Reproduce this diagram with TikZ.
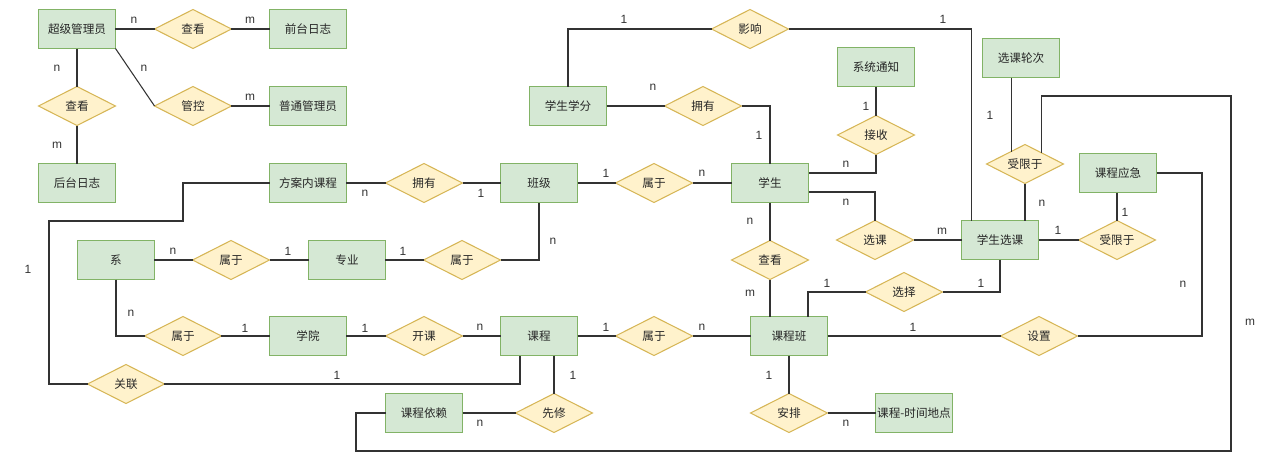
\documentclass[tikz,border=0pt]{standalone}
\usepackage{fontspec}
\setmainfont{Liberation Sans}
\newfontfamily\cjk{Noto Sans CJK SC}
\usetikzlibrary{shapes.geometric, calc}
\definecolor{entfill}{HTML}{D5E8D4}
\definecolor{entdraw}{HTML}{82B366}
\definecolor{relfill}{HTML}{FFF2CC}
\definecolor{reldraw}{HTML}{D6B656}
\definecolor{linecol}{HTML}{333333}

\begin{document}
\begin{tikzpicture}[
    x=0.02cm, y=-0.02cm,
    entity/.style={draw=entdraw, fill=entfill, line width=0.6pt, minimum width=1.54cm, minimum height=0.78cm, inner sep=0pt, outer sep=0pt, font=\cjk\fontsize{6.6}{8}\selectfont, text=black!85},
    relation/.style={diamond, aspect=2, draw=reldraw, fill=relfill, line width=0.6pt, minimum width=1.54cm, minimum height=0.78cm, inner sep=0pt, outer sep=0pt, font=\cjk\fontsize{6.6}{8}\selectfont, text=black!85},
    card/.style={font=\fontsize{6.8}{8}\selectfont, text=black!80, inner sep=0pt},
    line/.style={draw=linecol, line width=0.6pt},
]
\useasboundingbox (0,0) rectangle (1280,464);

% Admin part
\node[entity] (sadmin) at (77, 29) {超级管理员};
\node[entity] (qlog) at (308, 29) {前台日志};
\node[entity] (padmin) at (308, 106) {普通管理员};
\node[entity] (hlog) at (77, 183) {后台日志};
\node[relation] (ck1) at (193, 29) {查看};
\node[relation] (ck2) at (77, 106) {查看};
\node[relation] (gk) at (193, 106) {管控};

% Entities
\node[entity] (fakc) at (308, 183) {方案内课程};
\node[entity] (xsxf) at (568, 106) {学生学分};
\node[entity] (bj) at (539, 183) {班级};
\node[entity] (xs) at (770, 183) {学生};
\node[entity] (xttz) at (876, 67) {系统通知};
\node[entity] (lunci) at (1021, 58) {选课轮次};
\node[entity] (kcyj) at (1118, 173) {课程应急};
\node[entity] (xsxk) at (1000, 240) {学生选课};
\node[entity] (xi) at (116, 260) {系};
\node[entity] (zy) at (347, 260) {专业};
\node[entity] (xy) at (308, 336) {学院};
\node[entity] (kc) at (539, 336) {课程};
\node[entity] (kcb) at (789, 336) {课程班};
\node[entity] (kcyl) at (424, 413) {课程依赖};
\node[entity] (sjdd) at (914, 413) {课程-时间地点};

% Relations
\node[relation] (yx) at (750, 29) {影响};
\node[relation] (yy1) at (703, 106) {拥有};
\node[relation] (js) at (876, 135) {接收};
\node[relation] (sx1) at (1025, 164) {受限于};
\node[relation] (yy2) at (424, 183) {拥有};
\node[relation] (sy1) at (654, 183) {属于};
\node[relation] (xk) at (875, 240) {选课};
\node[relation] (sx2) at (1117, 240) {受限于};
\node[relation] (sy2) at (231, 260) {属于};
\node[relation] (sy3) at (462, 260) {属于};
\node[relation] (ck3) at (770, 260) {查看};
\node[relation] (xz) at (904, 292) {选择};
\node[relation] (sy4) at (183, 336) {属于};
\node[relation] (kk) at (424, 336) {开课};
\node[relation] (sy5) at (654, 336) {属于};
\node[relation] (sz) at (1039, 336) {设置};
\node[relation] (gl) at (126, 384) {关联};
\node[relation] (xx) at (554, 413) {先修};
\node[relation] (ap) at (789, 413) {安排};

% Bend points
\coordinate (p1) at ($(sx1.north)!0.36!(sx1.west)$);
\coordinate (p2) at ($(sx1.north)!0.42!(sx1.east)$);
\coordinate (loopNE) at (1231, 96);
\coordinate (loopSW) at (356, 451);
\coordinate (yjR) at (1202, 336);
\coordinate (glA) at (183, 221);
\coordinate (glB) at (49, 221);

% Connectors
\draw[line] (sadmin) -- (ck1) -- (qlog);
\draw[line] (sadmin) -- (ck2) -- (hlog);
\draw[line] (sadmin.south east) -- (gk.west);
\draw[line] (gk) -- (padmin);
\draw[line] (xsxf.north) |- (yx.west);
\draw[line] (yx.east) -| ($(xsxk.north west)+(10,0)$);
\draw[line] (xsxf) -- (yy1);
\draw[line] (yy1.east) -| (xs.north);
\draw[line] (xttz) -- (js);
\draw[line] (js.south) |- ($(xs.east)+(0,-10)$);
\draw[line] ($(xs.east)+(0,9)$) -| (xk.north);
\draw[line] (xk) -- (xsxk);
\draw[line] (lunci.south -| p1) -- (p1);
\draw[line] (p2) |- (loopNE) -- (loopNE |- loopSW) -- (loopSW) |- (kcyl.west);
\draw[line] (sx1.south) -- (sx1.south |- xsxk.north);
\draw[line] (kcyj.east) -| (yjR) -- (sz.east);
\draw[line] (sx2.north |- kcyj.south) -- (sx2.north);
\draw[line] (xsxk) -- (sx2);
\draw[line] (xs) -- (ck3);
\draw[line] (ck3.south) -- (ck3.south |- kcb.north);
\draw[line] (xsxk.south) |- (xz.east);
\draw[line] (xz.west) -| ($(kcb.north)+(19,0)$);
\draw[line] (fakc) -- (yy2) -- (bj) -- (sy1) -- (xs);
\draw[line] (xi) -- (sy2) -- (zy) -- (sy3);
\draw[line] (sy3.east) -| (bj.south);
\draw[line] (xi.south) |- (sy4.west);
\draw[line] (sy4) -- (xy) -- (kk) -- (kc) -- (sy5) -- (kcb) -- (sz);
\draw[line] (fakc.west) -| (glA) -- (glB) |- (gl.west);
\draw[line] (gl.east) -| ($(kc.south)+(-19,0)$);
\draw[line] (xx.north |- kc.south) -- (xx.north);
\draw[line] (kcyl) -- (xx);
\draw[line] (kcb) -- (ap) -- (sjdd);

% Cardinalities
\node[card] (c1) at (134, 20) {n};
\node[card] (c2) at (250, 20) {m};
\node[card] (c3) at (57, 68) {n};
\node[card] (c4) at (57, 145) {m};
\node[card] (c5) at (144, 68) {n};
\node[card] (c6) at (250, 97) {m};
\node[card] (c7) at (624, 19) {1};
\node[card] (c8) at (943, 19) {1};
\node[card] (c9) at (653, 87) {n};
\node[card] (c10) at (759, 135) {1};
\node[card] (c11) at (866, 106) {1};
\node[card] (c12) at (846, 164) {n};
\node[card] (c13) at (846, 202) {n};
\node[card] (c14) at (942, 231) {m};
\node[card] (c15) at (990, 115) {1};
\node[card] (c16) at (1042, 203) {n};
\node[card] (c17) at (1125, 212) {1};
\node[card] (c18) at (1058, 230) {1};
\node[card] (c19) at (1183, 284) {n};
\node[card] (c20) at (1250, 322) {m};
\node[card] (c21) at (365, 193) {n};
\node[card] (c22) at (481, 193) {1};
\node[card] (c23) at (606, 173) {1};
\node[card] (c24) at (702, 173) {n};
\node[card] (c25) at (28, 269) {1};
\node[card] (c26) at (173, 251) {n};
\node[card] (c27) at (288, 251) {1};
\node[card] (c28) at (403, 251) {1};
\node[card] (c29) at (553, 241) {n};
\node[card] (c30) at (750, 221) {n};
\node[card] (c31) at (750, 293) {m};
\node[card] (c32) at (827, 283) {1};
\node[card] (c33) at (981, 283) {1};
\node[card] (c34) at (131, 313) {n};
\node[card] (c35) at (245, 328) {1};
\node[card] (c36) at (365, 328) {1};
\node[card] (c37) at (480, 327) {n};
\node[card] (c38) at (606, 327) {1};
\node[card] (c39) at (702, 327) {n};
\node[card] (c40) at (913, 327) {1};
\node[card] (c41) at (337, 375) {1};
\node[card] (c42) at (573, 375) {1};
\node[card] (c43) at (769, 375) {1};
\node[card] (c44) at (480, 423) {n};
\node[card] (c45) at (846, 423) {n};

\end{tikzpicture}
\end{document}
